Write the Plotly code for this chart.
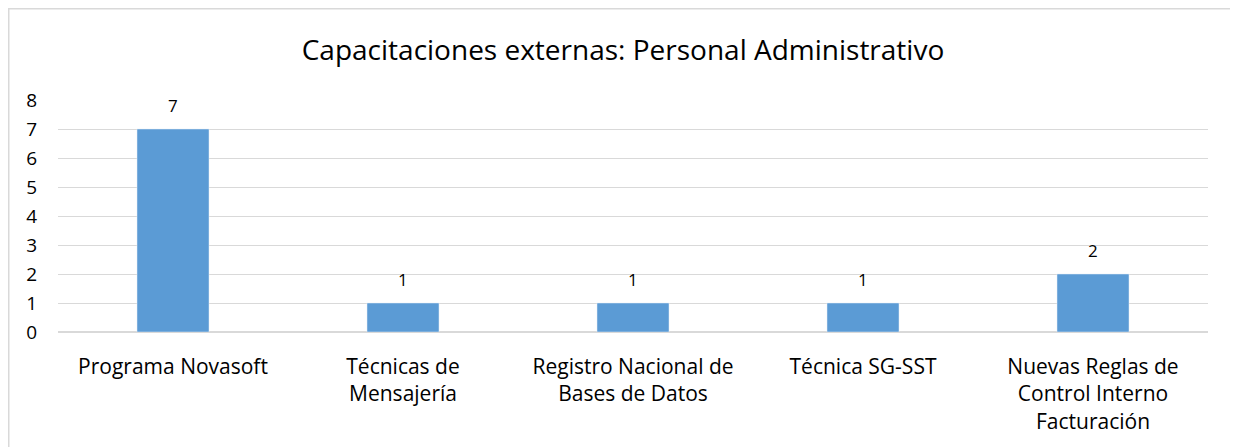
import plotly.graph_objects as go

categories = ["Programa Novasoft", "Técnicas de<br>Mensajería", "Registro Nacional de<br>Bases de Datos",
              "Técnica SG-SST", "Nuevas Reglas de<br>Control Interno<br>Facturación"]
values = [7, 1, 1, 1, 2]
y_ticks = [0, 1, 2, 3, 4, 5, 6, 7, 8]

FONT = "Open Sans"
W, H = 1230, 439          # page body margin of 8px makes it fill the 1238x447 window
L, R, T, B = 50, 30, 92, 115
pw, ph = W - L - R, H - T - B

fig = go.Figure(go.Bar(x=categories, y=values, marker_color="#5B9BD5"))

for c, v in zip(categories, values):
    fig.add_annotation(x=c, y=v, text=str(v), showarrow=False, yanchor="bottom",
                       yshift=10, font=dict(family=FONT, size=17, color="#000000"))

def px2paper_x(px):
    return (px - L) / pw

def px2paper_y(py):
    return (H - B - py) / ph

fig.update_layout(
    width=W, height=H,
    margin=dict(l=L, r=R, t=T, b=B),
    paper_bgcolor="white", plot_bgcolor="white",
    bargap=0.687,
    showlegend=False,
    title=dict(text="Capacitaciones externas: Personal Administrativo",
               x=0.5, xanchor="center", y=1 - 42 / H, yanchor="middle",
               font=dict(family=FONT, size=28, color="#000000")),
    font=dict(family=FONT, color="#000000"),
    xaxis=dict(showgrid=False, showline=False, ticks="", ticklabelstandoff=20,
               tickfont=dict(family=FONT, size=21, color="#000000")),
    yaxis=dict(range=[0, 8], tickvals=y_ticks, showgrid=True, gridcolor="#D9D9D9",
               gridwidth=1, zeroline=True, zerolinecolor="#D9D9D9", showline=False,
               ticks="", ticklabelstandoff=20,
               tickfont=dict(family=FONT, size=19, color="#000000")),
    shapes=[dict(type="rect", xref="paper", yref="paper",
                 x0=px2paper_x(0.75), x1=px2paper_x(1227),
                 y0=px2paper_y(460), y1=px2paper_y(0.75),
                 line=dict(color="#D9D9D9", width=1.5), fillcolor="rgba(0,0,0,0)",
                 layer="below")],
)

fig.write_html("out.html")
